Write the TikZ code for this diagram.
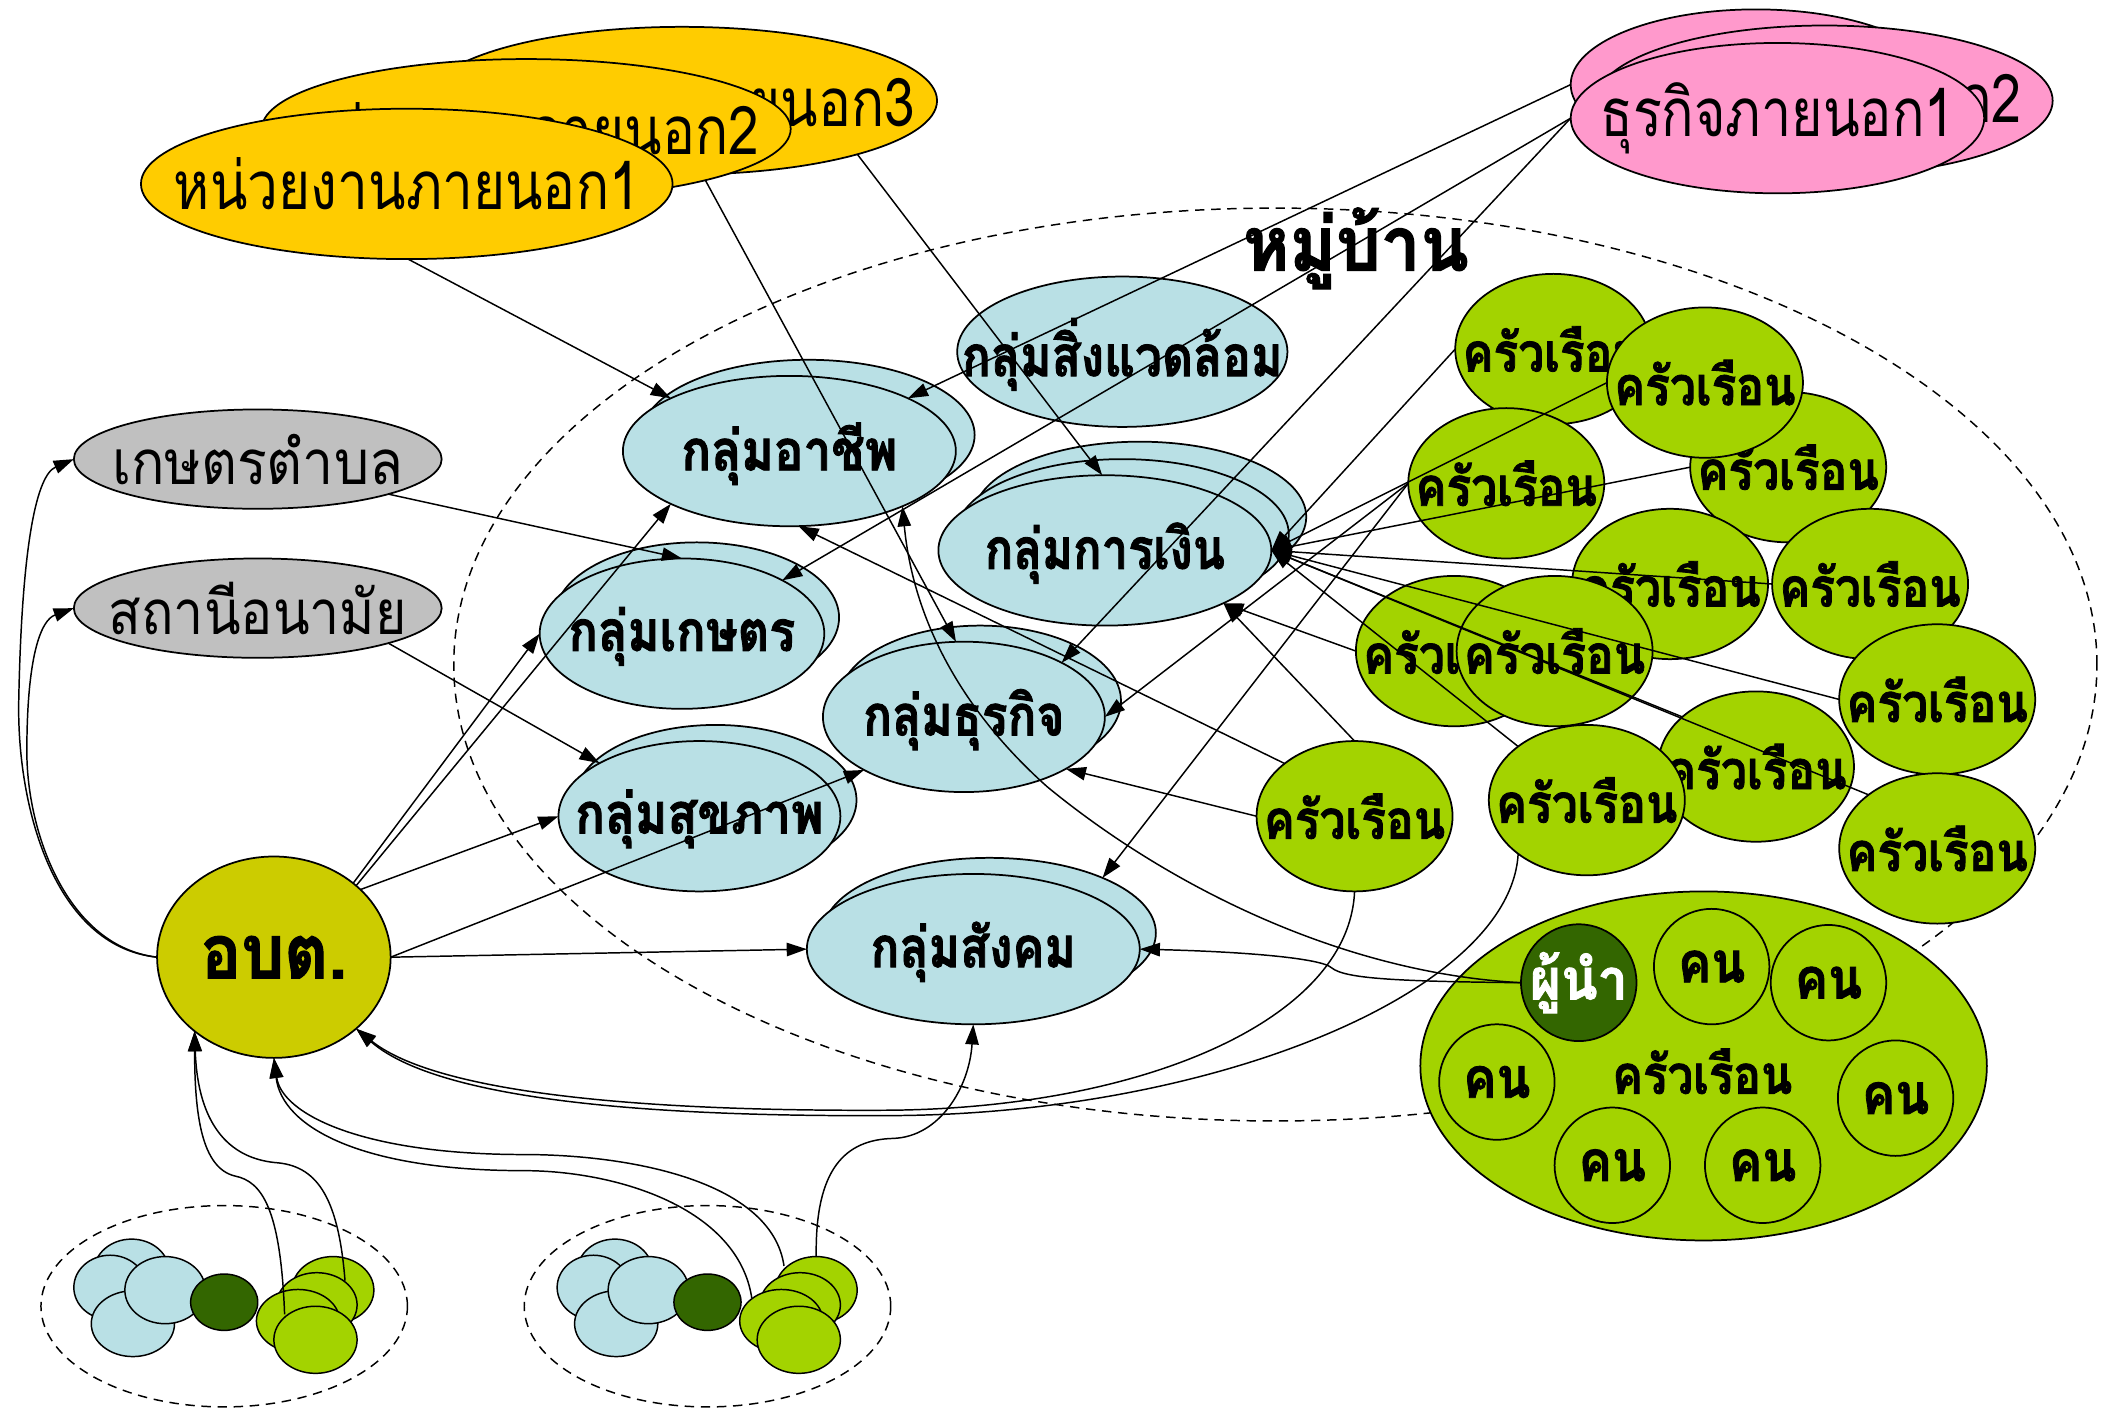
\documentclass[tikz,border=0pt]{standalone}
\usepackage{fontspec}
\usepackage{graphicx}
\newfontfamily\thai[Script=Thai,BoldFeatures={FakeBold=1.6}]{Loma}
\usetikzlibrary{shapes.geometric,arrows.meta}
\definecolor{ylw}{HTML}{FFCC00}
\definecolor{pnk}{HTML}{FF99CC}
\definecolor{lblue}{RGB}{185,224,229}
\definecolor{gry}{HTML}{C0C0C0}
\definecolor{obtc}{HTML}{CCCC00}
\definecolor{grn}{RGB}{163,211,0}
\definecolor{dgrn}{HTML}{336600}
\newcommand{\fitw}[2]{\resizebox{#1}{\height}{#2}}
\begin{document}
\begin{tikzpicture}[x=1pt,y=-1pt,
  every node/.style={inner sep=0pt,outer sep=0pt},
  blob/.style={ellipse,draw=black,line width=1.3pt},
  sz/.style 2 args={minimum width=#1pt,minimum height=#2pt},
  tx/.style={font={\thai\fontsize{#1pt}{#1pt}\selectfont}},
  txb/.style={font={\thai\bfseries\fontsize{#1pt}{#1pt}\selectfont}},
  ext/.style={blob,fill=ylw},
  biz/.style={blob,fill=pnk},
  gov/.style={blob,fill=gry},
  grp/.style={blob,fill=lblue},
  hh/.style={blob,fill=grn,sz={146}{112}},
  person/.style={blob,fill=grn,sz={86}{86}},
  dot/.style={ellipse,draw=black,line width=1.1pt},
  zone/.style={ellipse,draw=black,line width=1.1pt,dash pattern=on 7pt off 5pt},
  arr/.style={-{Triangle[length=15pt,width=10pt]},line width=1.1pt},
]
\useasboundingbox (0,0) rectangle (1568,1049);

% village and cluster zones
\node[zone,sz={1224}{680}] (village) at (950,495) {};
\node[zone,sz={273}{150}] (zone1) at (167,973) {};
\node[zone,sz={273}{150}] (zone2) at (527,973) {};

% external agencies
\node[ext,sz={380}{110}] (y3) at (508,75) {};
\node[tx=50] (y3t) at (y3) {\fitw{347pt}{หน่วยงานภายนอก3}};
\node[ext,sz={394}{104}] (y2) at (392,96) {};
\node[tx=50] (y2t) at (y2) {\fitw{347pt}{หน่วยงานภายนอก2}};
\node[ext,sz={396}{112}] (y1) at (303,137) {};
\node[tx=50] (y1t) at (y1) {\fitw{347pt}{หน่วยงานภายนอก1}};

% external businesses
\node[biz,sz={276}{112}] (p3) at (1308,63) {};
\node[biz,sz={340}{112}] (p2) at (1359,75) {};
\node[tx=50] (p2t) at (1374,78) {\fitw{264pt}{ธุรกิจภายนอก2}};
\node[biz,sz={308}{112}] (p1) at (1324,88) {};
\node[tx=50] (p1t) at (p1) {\fitw{264pt}{ธุรกิจภายนอก1}};

% government offices
\node[gov,sz={274}{74}] (gket) at (192,342) {};
\node[tx=46] (gkett) at (gket) {\fitw{217pt}{เกษตรตำบล}};
\node[gov,sz={274}{74}] (gsta) at (192,453) {};
\node[tx=46] (gstat) at (gsta) {\fitw{222pt}{สถานีอนามัย}};

\node[blob,fill=obtc,sz={174}{150}] (obt) at (204,713) {};
\node[txb=56] (obtt) at (obt) {\fitw{109pt}{อบต.}};

% groups
\node[grp,sz={248}{112}] (occb) at (602,324) {};
\node[grp,sz={248}{112}] (occ) at (588,336) {};
\node[txb=42] (occt) at (588,338) {\fitw{161pt}{กลุ่มอาชีพ}};

\node[grp,sz={246}{112}] (env) at (836,262) {};
\node[txb=42] (envt) at (836,264) {\fitw{239pt}{กลุ่มสิ่งแวดล้อม}};

\node[grp,sz={248}{112}] (finc) at (849,385) {};
\node[grp,sz={248}{112}] (finb) at (836,398) {};
\node[grp,sz={248}{112}] (fin) at (823,410) {};
\node[txb=42] (fint) at (823,412) {\fitw{179pt}{กลุ่มการเงิน}};

\node[grp,sz={212}{112}] (agrb) at (519,460) {};
\node[grp,sz={212}{112}] (agr) at (508,472) {};
\node[txb=42] (agrt) at (508,474) {\fitw{169pt}{กลุ่มเกษตร}};

\node[grp,sz={210}{112}] (bizgb) at (730,522) {};
\node[grp,sz={210}{112}] (bizg) at (718,534) {};
\node[txb=42] (bizgt) at (718,536) {\fitw{150pt}{กลุ่มธุรกิจ}};

\node[grp,sz={210}{112}] (heab) at (533,596) {};
\node[grp,sz={210}{112}] (hea) at (521,608) {};
\node[txb=42] (heat) at (521,610) {\fitw{185pt}{กลุ่มสุขภาพ}};

\node[grp,sz={248}{112}] (socb) at (737,695) {};
\node[grp,sz={248}{112}] (soc) at (725,707) {};
\node[txb=42] (soct) at (725,709) {\fitw{153pt}{กลุ่มสังคม}};

% households
\node[hh] (h1) at (1157,260) {};
\node[txb=40] (h1t) at (h1) {\fitw{135pt}{ครัวเรือน}};
\node[hh] (h4) at (1332,348) {};
\node[txb=40] (h4t) at (h4) {\fitw{135pt}{ครัวเรือน}};
\node[hh] (h2) at (1270,285) {};
\node[txb=40] (h2t) at (h2) {\fitw{135pt}{ครัวเรือน}};
\node[hh] (h3) at (1122,360) {};
\node[txb=40] (h3t) at (h3) {\fitw{135pt}{ครัวเรือน}};
\node[hh] (h5) at (1244,435) {};
\node[txb=40] (h5t) at (h5) {\fitw{135pt}{ครัวเรือน}};
\node[hh] (h6) at (1393,435) {};
\node[txb=40] (h6t) at (h6) {\fitw{135pt}{ครัวเรือน}};
\node[hh] (h7) at (1083,485) {};
\node[txb=40] (h7t) at (h7) {\fitw{135pt}{ครัวเรือน}};
\node[hh] (h8) at (1158,485) {};
\node[txb=40] (h8t) at (h8) {\fitw{135pt}{ครัวเรือน}};
\node[hh] (h9) at (1443,521) {};
\node[txb=40] (h9t) at (h9) {\fitw{135pt}{ครัวเรือน}};
\node[hh] (h10) at (1308,571) {};
\node[txb=40] (h10t) at (h10) {\fitw{135pt}{ครัวเรือน}};
\node[hh] (h11) at (1182,596) {};
\node[txb=40] (h11t) at (h11) {\fitw{135pt}{ครัวเรือน}};
\node[hh] (h12) at (1443,632) {};
\node[txb=40] (h12t) at (h12) {\fitw{135pt}{ครัวเรือน}};
\node[hh] (h13) at (1009,608) {};
\node[txb=40] (h13t) at (h13) {\fitw{135pt}{ครัวเรือน}};

% detailed household
\node[blob,fill=grn,sz={422}{260}] (big) at (1269,794) {};
\node[txb=40] (bigt) at (1268,798) {\fitw{134pt}{ครัวเรือน}};
\node[blob,fill=dgrn,sz={86}{87}] (ldr) at (1176,732) {};
\node[txb=42,text=white] (ldrt) at (ldr) {\fitw{73pt}{ผู้นำ}};
\node[person] (q1) at (1275,720) {};
\node[txb=42] (q1t) at (q1) {\fitw{50pt}{คน}};
\node[person] (q2) at (1362,732) {};
\node[txb=42] (q2t) at (q2) {\fitw{50pt}{คน}};
\node[person] (q3) at (1115,806) {};
\node[txb=42] (q3t) at (q3) {\fitw{50pt}{คน}};
\node[person] (q4) at (1412,818) {};
\node[txb=42] (q4t) at (q4) {\fitw{50pt}{คน}};
\node[person] (q5) at (1201,868) {};
\node[txb=42] (q5t) at (q5) {\fitw{50pt}{คน}};
\node[person] (q6) at (1313,868) {};
\node[txb=42] (q6t) at (q6) {\fitw{50pt}{คน}};

% small clusters
\foreach \dx/\c in {0/1,360/2}{
  \node[dot,fill=lblue,sz={56}{48}] (c\c b1) at (98+\dx,947) {};
  \node[dot,fill=lblue,sz={54}{48}] (c\c b2) at (82+\dx,959) {};
  \node[dot,fill=lblue,sz={62}{49}] (c\c b4) at (99+\dx,986) {};
  \node[dot,fill=lblue,sz={60}{50}] (c\c b3) at (123+\dx,961) {};
  \node[dot,fill=dgrn,sz={50}{42}] (c\c d) at (167+\dx,970) {};
  \node[dot,fill=grn,sz={61}{50}] (c\c g1) at (248+\dx,961) {};
  \node[dot,fill=grn,sz={60}{48}] (c\c g2) at (236+\dx,972) {};
  \node[dot,fill=grn,sz={62}{47}] (c\c g3) at (222+\dx,984) {};
  \node[dot,fill=grn,sz={62}{50}] (c\c g4) at (235+\dx,998) {};
}

\node[txb=56] (villt) at (1010,185) {\fitw{168pt}{หมู่บ้าน}};

% ---------- connectors ----------
\draw[arr] (y1.-89) -- (occ.156);
\draw[arr] (y2.-16) -- (bizg.96);
\draw[arr] (y3.-17) -- (fin.92);
\draw[arr] (p3.west) -- (occ.24);
\draw[arr] (p1.west) -- (agr.28);
\draw[arr] (p1.west) -- (bizg.29);
\draw[arr] (gket.-15) -- (agr.north);
\draw[arr] (gsta.-15) -- (hea.152);

\draw[arr] (obt.west) .. controls (40,705) and (12,600) .. (14,520) .. controls (16,420) and (25,355) .. (gket.west);
\draw[arr] (obt.west) .. controls (50,705) and (20,620) .. (20,560) .. controls (20,490) and (30,462) .. (gsta.west);
\draw[arr] (obt.41) -- (occ.204);
\draw[arr] (obt.43) -- (agr.west);
\draw[arr] (obt.38) -- (hea.west);
\draw[arr] (obt.east) -- (bizg.208);
\draw[arr] (obt.east) -- (soc.west);

\draw[arr] (h1.west) -- (fin.east);
\draw[arr] (h2.west) -- (fin.east);
\draw[arr] (h4.west) -- (fin.east);
\draw[arr] (h6.west) -- (fin.east);
\draw[arr] (h9.west) -- (fin.east);
\draw[arr] (h10.146) -- (fin.east);
\draw[arr] (h12.142) -- (fin.east);
\draw[arr] (h11.142) -- (fin.east);
\draw[arr] (h3.west) -- (bizg.east);
\draw[arr] (h3.west) -- (socb.26);
\draw[arr] (h7.west) -- (fin.-24);
\draw[arr] (h13.north) -- (fin.-24);
\draw[arr] (h13.west) -- (bizg.-27);
\draw[arr] (h13.143) -- (occ.-83);

\draw[arr] (h13.south) .. controls (1005,760) and (850,826) .. (660,827) .. controls (450,828) and (320,810) .. (obt.-41);
\draw[arr] (h11.218) .. controls (1125,740) and (900,831) .. (660,831) .. controls (450,832) and (320,814) .. (obt.-41);

\draw[arr] (ldr.west) .. controls (1040,731) and (1002,729) .. (992,721) .. controls (985,714) and (930,709) .. (soc.east);
\draw[arr] (ldr.west) .. controls (1000,725) and (870,660) .. (780,586) .. controls (715,528) and (680,460) .. (occ.-26);

\coordinate (k1s) at (212,979);
\coordinate (k2s) at (257,954);
\draw[arr] (k1s) .. controls (209,900) and (195,880) .. (175,876) .. controls (150,870) and (145,830) .. (obt.223);
\draw[arr] (k2s) .. controls (252,890) and (235,868) .. (205,866) .. controls (165,862) and (147,830) .. (obt.223);
\coordinate (k3s) at (560,967);
\coordinate (k4s) at (584,943);
\draw[arr] (k3s) .. controls (550,900) and (460,872) .. (390,872) .. controls (270,872) and (210,840) .. (obt.south);
\draw[arr] (k4s) .. controls (575,880) and (470,860) .. (390,860) .. controls (270,860) and (210,830) .. (obt.south);
\draw[arr] (c2g1.north) .. controls (607,870) and (630,849) .. (665,848) .. controls (700,847) and (722,810) .. (soc.south);
\end{tikzpicture}
\end{document}
